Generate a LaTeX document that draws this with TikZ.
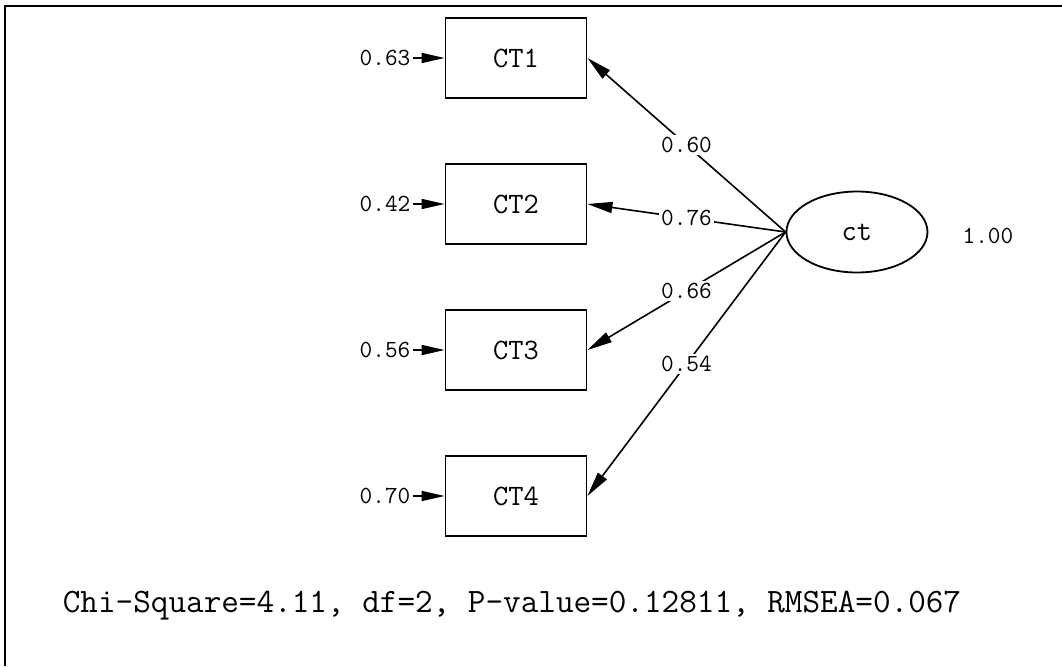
\documentclass[tikz,border=0pt]{standalone}
\usepackage{fontspec}
\usetikzlibrary{arrows.meta,positioning,shapes.geometric}

\tikzset{
    indicator/.style={draw, line width=0.9pt, minimum width=2.478cm,
        minimum height=1.406cm, inner sep=0pt, font=\ttfamily\fontsize{14.8}{17}\selectfont},
    latent/.style={indicator, ellipse, minimum height=1.423cm},
    estimate/.style={font=\ttfamily\fontsize{12.3}{14}\selectfont, inner sep=1pt},
    loading/.style={estimate, fill=white},
    link/.style={-{Triangle[length=12.5pt,width=5.5pt]}, line width=0.8pt},
    errorlink/.style={link, -{Triangle[length=11.5pt,width=5pt]}}
}

\begin{document}
\begin{tikzpicture}
    \useasboundingbox (0,0) rectangle (18.663,-11.704);
    \coordinate (frame-bl) at (0.088,-11.704);
    \coordinate (frame-tr) at (18.663,-0.105);
    \draw[line width=1pt] (frame-bl) |- (frame-tr);

    \node[indicator] (ct-1) at (9.068,-1.019) {CT1};
    \node[indicator] (ct-2) at (9.068,-3.585) {CT2};
    \node[indicator] (ct-3) at (9.068,-6.151) {CT3};
    \node[indicator] (ct-4) at (9.068,-8.716) {CT4};
    \node[latent] (ct) at (15.060,-4.077) {ct};
    \node[estimate] (ct-var) at (17.362,-4.147) {1.00};

    \node[estimate, left=0.56cm of ct-1] (err-1) {0.63};
    \node[estimate, left=0.56cm of ct-2] (err-2) {0.42};
    \node[estimate, left=0.56cm of ct-3] (err-3) {0.56};
    \node[estimate, left=0.56cm of ct-4] (err-4) {0.70};
    \draw[errorlink] (err-1) -- (ct-1);
    \draw[errorlink] (err-2) -- (ct-2);
    \draw[errorlink] (err-3) -- (ct-3);
    \draw[errorlink] (err-4) -- (ct-4);

    \draw[link] (ct.west) -- node[loading] {0.60} (ct-1.east);
    \draw[link] (ct.west) -- node[loading] {0.76} (ct-2.east);
    \draw[link] (ct.west) -- node[loading] {0.66} (ct-3.east);
    \draw[link] (ct.west) -- node[loading] {0.54} (ct-4.east);

    \node[font=\ttfamily\fontsize{17.1}{20}\selectfont] (fit-stats) at (8.997,-10.649)
        {Chi-Square=4.11, df=2, P-value=0.12811, RMSEA=0.067};
\end{tikzpicture}
\end{document}
